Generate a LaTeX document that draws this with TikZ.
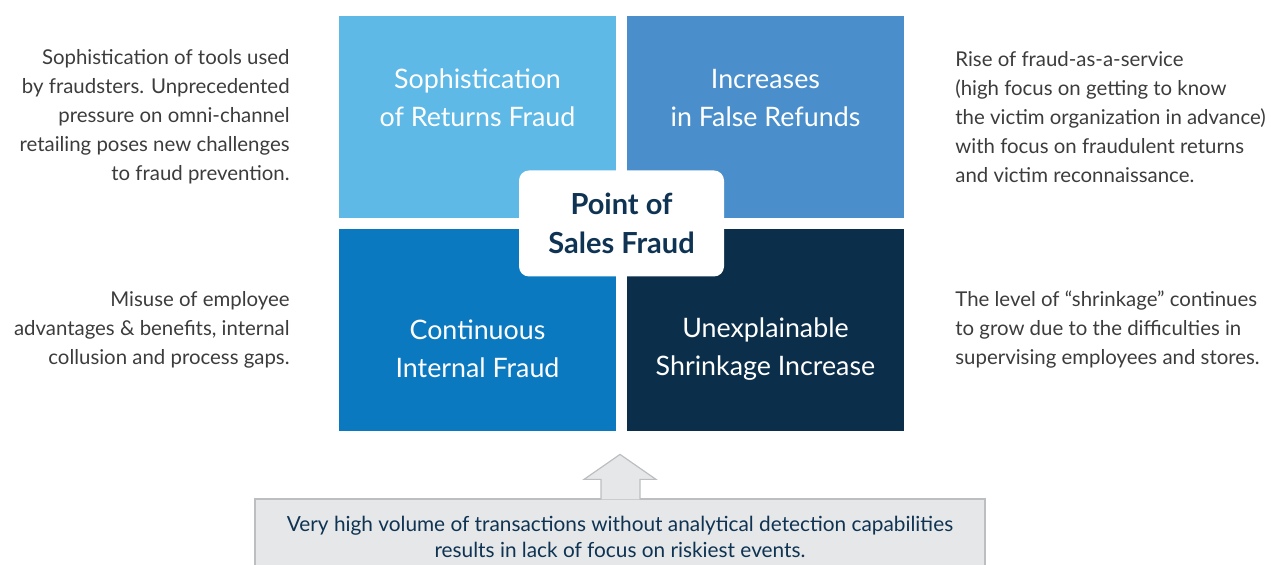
\documentclass[tikz,border=0pt]{standalone}
\usepackage{fontspec}
\setmainfont{Lato}
\usepackage{xcolor}
\usetikzlibrary{positioning,calc}
\definecolor{qone}{HTML}{5EB9E7}
\definecolor{qtwo}{HTML}{4A8FCB}
\definecolor{qthree}{HTML}{0B79BF}
\definecolor{qfour}{HTML}{0B2E4A}
\definecolor{navy}{HTML}{0E3353}
\definecolor{sidegray}{HTML}{3C3C3C}
\definecolor{basefill}{HTML}{E6E7E8}
\definecolor{baseline}{HTML}{BCBEC0}

\begin{document}
\begin{tikzpicture}[x=0.5pt,y=-0.5pt,node distance=5.5pt,
	quad/.style={minimum width=138.5pt,minimum height=101pt,inner sep=0pt,outer sep=0pt},
	qlabel/.style={text=white,align=center,font=\fontsize{13.4}{18.8}\selectfont},
	side/.style={text=sidegray,inner sep=0pt,font=\fontsize{10.2}{14.5}\selectfont},
	centre/.style={fill=white,rounded corners=5pt,minimum width=102.5pt,minimum height=53pt,
		align=center,text=navy,font=\bfseries\fontsize{14.5}{19.5}\selectfont},
	basebox/.style={draw=baseline,fill=basefill,line width=0.6pt,minimum width=365pt,
		minimum height=38pt,align=center,text=navy,font=\fontsize{10.4}{13}\selectfont},
	uparrow/.style={draw=baseline,fill=basefill,line width=0.6pt}]
	\useasboundingbox (0,0) rectangle (1271,565);
	\clip (0,0) rectangle (1271,565);
	% quadrants
	\node[quad,fill=qone] (q_1) at (477.5,117) {};
	\node[quad,fill=qtwo,right=of q_1] (q_2) {};
	\node[quad,fill=qthree,below=of q_1] (q_3) {};
	\node[quad,fill=qfour,right=of q_3] (q_4) {};
	\node[qlabel,yshift=9.5pt] (l_1) at (q_1) {Sophistication\\of Returns Fraud};
	\node[qlabel,yshift=9.5pt] (l_2) at (q_2) {Increases\\in False Refunds};
	\node[qlabel,yshift=-9.5pt] (l_3) at (q_3) {Continuous\\Internal Fraud};
	\node[qlabel,yshift=-9.5pt] (l_4) at (q_4) {Unexplainable\\Shrinkage Increase};
	\node[centre] (pos) at ($(q_1.south east)!0.5!(q_4.north west)$) {Point of\\Sales Fraud};
	% side notes
	\node[side,align=right,left=24.5pt of q_1] (t_1) {Sophistication of tools used\\by fraudsters. Unprecedented\\pressure on omni-channel\\retailing poses new challenges\\to fraud prevention.};
	\node[side,align=left,right=25.5pt of q_2] (t_2) {Rise of fraud-as-a-service\\(high focus on getting to know\\the victim organization in advance)\\with focus on fraudulent returns\\and victim reconnaissance.};
	\node[side,align=right,left=24.5pt of q_3] (t_3) {Misuse of employee\\advantages \& benefits, internal\\collusion and process gaps.};
	\node[side,align=left,right=25.5pt of q_4] (t_4) {The level of “shrinkage” continues\\to grow due to the difficulties in\\supervising employees and stores.};
	% base
	\node[basebox] (base) at (620,537) {Very high volume of transactions without analytical detection capabilities\\results in lack of focus on riskiest events.};
	\filldraw[uparrow] ($(base.north)+(-19,1)$) -- ++(0,-20) -- ++(-17,0) -- ($(base.north)+(0,-44)$)
		-- ($(base.north)+(36,-19)$) -- ++(-16,0) -- ($(base.north)+(20,1)$);
\end{tikzpicture}
\end{document}
